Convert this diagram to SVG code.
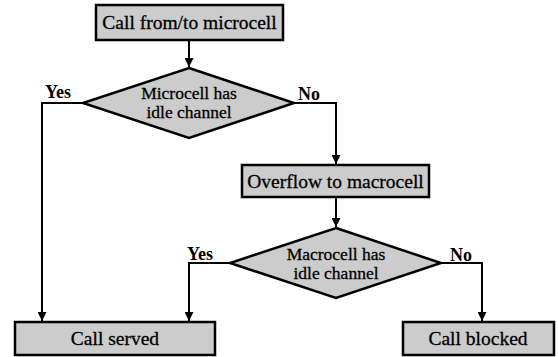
<svg xmlns="http://www.w3.org/2000/svg" width="558" height="357" viewBox="0 0 558 357">
  <defs>
    <marker id="arrow" viewBox="0 0 10 10" refX="10" refY="5" markerWidth="9" markerHeight="9" markerUnits="userSpaceOnUse" orient="auto">
      <path d="M0,0 L10,5 L0,10 Z" fill="#000"/>
    </marker>
    <style>
      .box { fill: #cccccc; stroke: #000; stroke-width: 2.5; }
      .dia { fill: #cccccc; stroke: #000; stroke-width: 2.5; stroke-linejoin: miter; }
      .lbl { font-family: "Liberation Serif", "Times New Roman", serif; font-size: 19.5px; fill: #000; stroke: #000; stroke-width: 0.3; text-anchor: middle; }
      .dlbl { font-family: "Liberation Serif", "Times New Roman", serif; font-size: 17.5px; fill: #000; stroke: #000; stroke-width: 0.3; text-anchor: middle; }
      .yn { font-family: "Liberation Serif", "Times New Roman", serif; font-size: 18px; font-weight: bold; fill: #000; }
      .wire { fill: none; stroke: #000; stroke-width: 2; }
    </style>
  </defs>
  <rect width="558" height="357" fill="#fff"/>

  <g id="connectors">
    <path class="wire" d="M189,40 L189,67" marker-end="url(#arrow)"/>
    <path class="wire" d="M83,103 L42,103 L42,321" marker-end="url(#arrow)"/>
    <path class="wire" d="M294,103 L336,103 L336,164" marker-end="url(#arrow)"/>
    <path class="wire" d="M336,197 L336,227" marker-end="url(#arrow)"/>
    <path class="wire" d="M230,263 L189,263 L189,321" marker-end="url(#arrow)"/>
    <path class="wire" d="M441,263 L482,263 L482,321" marker-end="url(#arrow)"/>
    <text class="yn" x="45" y="98">Yes</text>
    <text class="yn" x="298" y="100">No</text>
    <text class="yn" x="187" y="260">Yes</text>
    <text class="yn" x="450" y="261">No</text>
  </g>

  <g id="start">
    <rect class="box" x="96" y="5" width="187" height="35"/>
    <text class="lbl" x="189.5" y="29">Call from/to microcell</text>
  </g>

  <g id="micro-check">
    <polygon class="dia" points="189,68 294,103 189,138 83,103"/>
    <text class="dlbl" x="189" y="99">Microcell has</text>
    <text class="dlbl" x="189" y="118">idle channel</text>
  </g>

  <g id="overflow">
    <rect class="box" x="242" y="165" width="187" height="32"/>
    <text class="lbl" x="335.5" y="188">Overflow to macrocell</text>
  </g>

  <g id="macro-check">
    <polygon class="dia" points="336,228 441,263 336,298 230,263"/>
    <text class="dlbl" x="336" y="260">Macrocell has</text>
    <text class="dlbl" x="336" y="279">idle channel</text>
  </g>

  <g id="served">
    <rect class="box" x="15" y="322" width="200" height="33"/>
    <text class="lbl" x="115" y="345">Call served</text>
  </g>

  <g id="blocked">
    <rect class="box" x="403" y="322" width="151" height="33"/>
    <text class="lbl" x="478" y="345">Call blocked</text>
  </g>
</svg>
